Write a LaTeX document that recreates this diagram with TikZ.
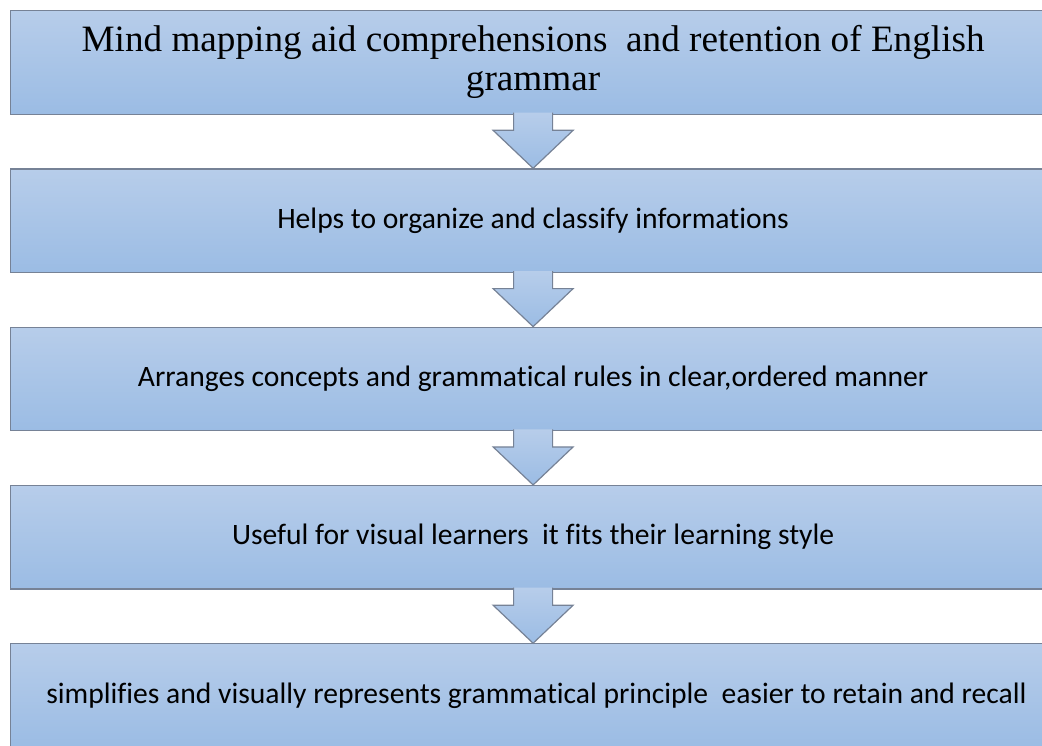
\documentclass[tikz,border=0pt]{standalone}
\usepackage{fontspec}
\setmainfont{Carlito}[Ligatures=NoCommon]
\newfontfamily\titlefont{Liberation Serif}
\usetikzlibrary{calc, positioning}

\definecolor{boxTop}{RGB}{183,205,234}
\definecolor{boxBottom}{RGB}{155,188,228}
\definecolor{boxLine}{RGB}{118,130,150}

\begin{document}
\begin{tikzpicture}[auto, node distance=26.8pt, line width=0.6pt]
        % Definición de estilos para los bloques y flechas
        \tikzstyle{block} = [draw=boxLine, rectangle, top color=boxTop, bottom color=boxBottom, minimum height=51.75pt, minimum width=522.5pt, inner sep=2pt, align=center, font=\fontsize{14.8}{17.8}\selectfont]
        \tikzstyle{flowArrow} = [draw=boxLine, top color=boxTop, bottom color=boxBottom, line join=miter]

        % Marco de la figura
        \clip (0,0) rectangle (521pt,-372.5pt);
        \useasboundingbox (0,0) rectangle (521pt,-372.5pt);

        % Definición de nodos
        \node [block, anchor=north west, font=\titlefont\fontsize{18.6}{19.5}\selectfont] at (5pt,-5pt) (mainBlock) {Mind mapping aid comprehensions\ \ and retention of English\\grammar};
        \node [block, below=of mainBlock] (helpBlock) {Helps to organize and classify informations};
        \node [block, below=of helpBlock] (arrangeBlock) {Arranges concepts and grammatical rules in clear,ordered manner};
        \node [block, below=of arrangeBlock] (visualBlock) {Useful for visual learners\ \ it fits their learning style};
        \node [block, below=of visualBlock] (simplifyBlock) {\ simplifies and visually represents grammatical principle\ \ easier to retain and recall};

        % Flechas entre bloques
        \foreach \a/\b in {mainBlock/helpBlock, helpBlock/arrangeBlock, arrangeBlock/visualBlock, visualBlock/simplifyBlock} {
          \path [flowArrow] ($(\a.south)+(-9.75pt,1pt)$) -- ($(\b.north)+(-9.75pt,19pt)$) -- ($(\b.north)+(-20pt,19pt)$) -- (\b.north) -- ($(\b.north)+(20pt,19pt)$) -- ($(\b.north)+(9.75pt,19pt)$) -- ($(\a.south)+(9.75pt,1pt)$);
        }
      \end{tikzpicture}
\end{document}
